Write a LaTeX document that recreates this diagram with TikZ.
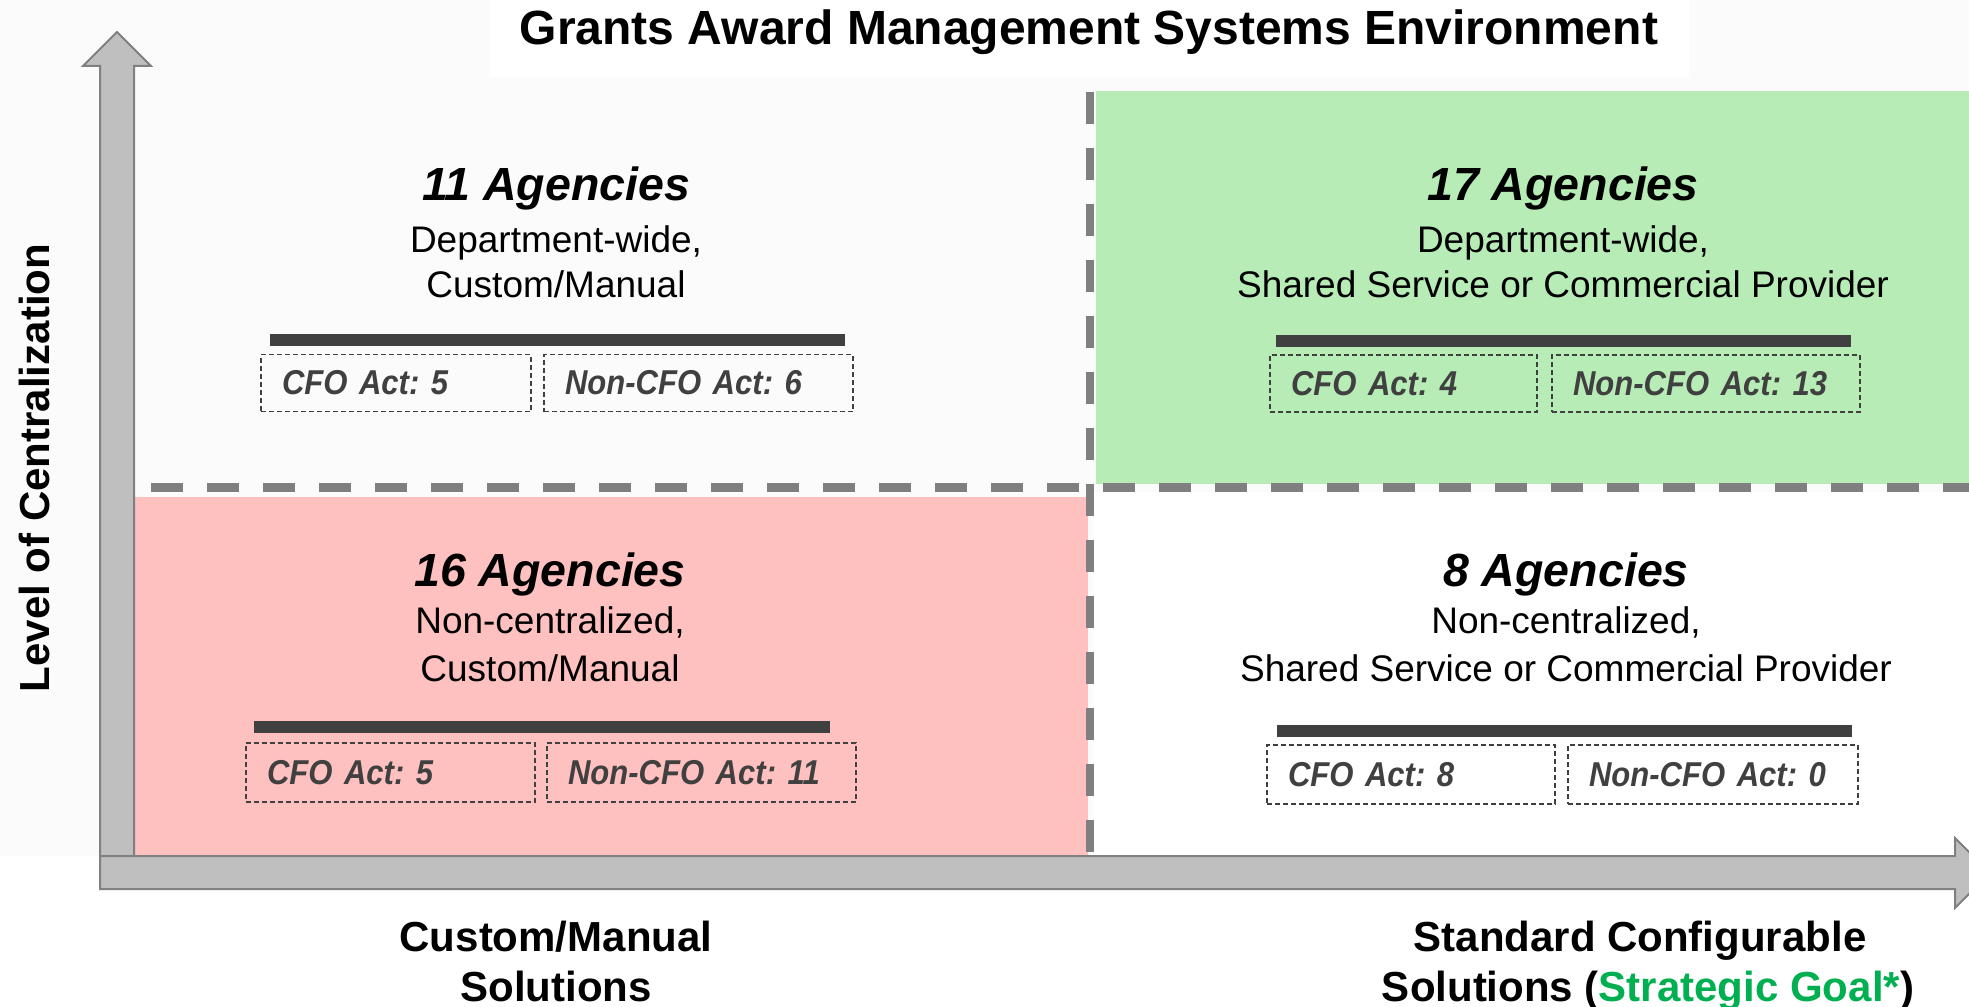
\documentclass[tikz,border=0pt]{standalone}
\usepackage{fontspec}
\setmainfont{Liberation Sans}
\newfontfamily\narrowfont[FakeStretch=0.9]{Liberation Sans}
\frenchspacing
\definecolor{bggrey}{HTML}{FBFBFB}
\definecolor{arrowfill}{HTML}{BFBFBF}
\definecolor{arrowline}{HTML}{808080}
\definecolor{dashc}{HTML}{7F7F7F}
\definecolor{greenq}{HTML}{B7ECB7}
\definecolor{pinkq}{HTML}{FFC0C0}
\definecolor{darkc}{HTML}{404040}
\definecolor{goalgreen}{HTML}{00B050}
\begin{document}
\begin{tikzpicture}[x=1pt,y=-1pt,
  title/.style={font=\fontsize{48}{58}\selectfont\bfseries, anchor=base, inner sep=0pt},
  head/.style={font=\fontsize{46.5}{56}\selectfont\bfseries\itshape, anchor=base, inner sep=0pt},
  sub/.style={font=\fontsize{37}{45}\selectfont, anchor=base, inner sep=0pt},
  axislabel/.style={font=\fontsize{42}{50}\selectfont\bfseries, anchor=base, inner sep=0pt},
  bar/.style={rectangle, fill=darkc, draw=none, minimum height=12pt, inner sep=0pt},
  actbox/.style={rectangle, draw=darkc, line width=1.4pt, dash pattern=on 5pt off 3pt,
     minimum height=57pt, inner xsep=21pt, inner ysep=0pt, text width=#1, align=left,
     text=darkc, font=\narrowfont\fontsize{34.5}{40}\selectfont\bfseries\itshape},
  quaddash/.style={draw=dashc, line width=8.5pt, dash pattern=on 32pt off 24pt},
  bigarrow/.style={fill=arrowfill, draw=arrowline, line width=2pt, line join=miter}
]
\useasboundingbox (0,0) rectangle (1969,1006);
% backgrounds
\fill[white] (0,0) rectangle (1969,1006);
\fill[bggrey] (0,0) rectangle (1969,856);
\fill[white] (490,0) rectangle (1689,77);
\fill[white] (1094,492) rectangle (1969,856);
% quadrant fills
\fill[greenq] (1096,91) rectangle (1969,484);
\fill[pinkq] (134,497) rectangle (1088,856);
% dashed quadrant dividers
\draw[quaddash] (1090,92) -- (1090,856);
\draw[quaddash] (151,487.5) -- (1969,487.5);
% axes arrows
\draw[bigarrow] (100,856) -- (100,66) -- (83,66) -- (117,32) -- (151,66) -- (134,66) -- (134,856);
\draw[bigarrow] (100,856) -- (1955,856) -- (1955,838) -- (1990,873) -- (1955,908) -- (1955,889) -- (100,889) -- cycle;

% title
\node[title] (title) at (1089,45) {Grants Award Management Systems Environment};

% top-left quadrant
\node[head] (tlhead) at (556,200) {11 Agencies};
\node[sub] (tlsub1) at (556,252) {Department-wide,};
\node[sub] (tlsub2) at (556,297) {Custom/Manual};
\node[bar, minimum width=575pt] (tlbar) at (557.5,339.5) {};
\node[actbox=228pt] (tlcfo) at (396,383) {CFO Act: 5};
\node[actbox=267pt] (tlnon) at (698.5,383) {Non-CFO Act: 6};

% top-right quadrant
\node[head] (trhead) at (1563,200) {17 Agencies};
\node[sub] (trsub1) at (1563,252) {Department-wide,};
\node[sub] (trsub2) at (1563,297) {Shared Service or Commercial Provider};
\node[bar, minimum width=575pt] (trbar) at (1563.5,341) {};
\node[actbox=225pt] (trcfo) at (1403.5,383.5) {CFO Act: 4};
\node[actbox=266pt] (trnon) at (1706,383.5) {Non-CFO Act: 13};

% bottom-left quadrant
\node[head] (blhead) at (550,586) {16 Agencies};
\node[sub] (blsub1) at (550,633) {Non-centralized,};
\node[sub] (blsub2) at (550,681) {Custom/Manual};
\node[bar, minimum width=576pt] (blbar) at (542,726.5) {};
\node[actbox=247pt, minimum height=59pt] (blcfo) at (390.5,772.5) {CFO Act: 5};
\node[actbox=267pt, minimum height=59pt] (blnon) at (701.5,772.5) {Non-CFO Act: 11};

% bottom-right quadrant
\node[head] (brhead) at (1566,586) {8 Agencies};
\node[sub] (brsub1) at (1566,633) {Non-centralized,};
\node[sub] (brsub2) at (1566,681) {Shared Service or Commercial Provider};
\node[bar, minimum width=575pt] (brbar) at (1564.5,730.5) {};
\node[actbox=246pt, minimum height=59pt] (brcfo) at (1411,774.5) {CFO Act: 8};
\node[actbox=248pt, minimum height=59pt] (brnon) at (1713,774.5) {Non-CFO Act: 0};

% axis labels
\node[axislabel, rotate=90] (ylabel) at (49,468) {Level of Centralization};
\node[axislabel] (xl1a) at (556,951) {Custom/Manual};
\node[axislabel] (xl1b) at (556,1001) {Solutions};
\node[axislabel] (xl2a) at (1640,951) {Standard Configurable};
\node[axislabel] (xl2b) at (1648,1001) {Solutions (\textcolor{goalgreen}{Strategic Goal*})};
\end{tikzpicture}
\end{document}
